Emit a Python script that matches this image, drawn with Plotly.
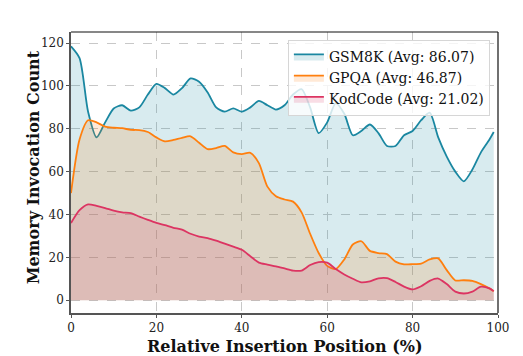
import plotly.graph_objects as go

x = [0, 2, 4, 6, 8, 10, 12, 14, 16, 18, 20, 22, 24, 26, 28, 30, 32, 34, 36, 38, 40,
     42, 44, 46, 48, 50, 52, 54, 56, 58, 60, 62, 64, 66, 68, 70, 72, 74, 76, 78, 80,
     82, 84, 86, 88, 90, 92, 94, 96, 98, 99]

gsm8k = [118.5, 113, 88, 76, 83, 89.5, 91, 88.5, 90, 96, 101, 99, 96, 99, 103.5, 102, 97, 90, 88, 89.5, 88,
         90, 93, 91, 89, 91, 96, 98.5, 90, 78, 83, 92, 87, 77, 79, 82, 78, 72, 72, 77, 79,
         84, 87.5, 76, 67, 60, 55.5, 61, 69, 75, 78.5]

gpqa = [50, 75, 84, 83, 81, 80.5, 80.3, 79.5, 79.4, 78.5, 76, 74.1, 74.8, 75.8, 76.5, 73.5, 70.5, 71, 72, 69, 68.2,
        68.8, 64, 53, 48.5, 47, 46, 41, 31, 22, 16, 14.5, 19, 26, 27.5, 23, 22, 21.5, 18, 16.7, 16.8,
        17.1, 19, 19.5, 14, 9.2, 9.3, 9, 7.5, 5.5, 4.2]

kodcode = [36, 42, 44.7, 44, 43, 41.8, 41, 40.6, 39, 37.5, 36.1, 35, 33.8, 32.9, 31, 29.7, 29, 27.8, 26.4, 25, 23.5,
           20.5, 17.5, 16.6, 15.8, 14.8, 13.8, 13.8, 16.4, 17.8, 17.5, 14.5, 12, 10, 8.3, 8.8, 10.2, 10.3, 8.5, 6.3, 5,
           6.5, 9, 10.1, 7.5, 4, 3.1, 4, 6.3, 5.5, 4.2]

names = ["GSM8K (Avg: 86.07)", "GPQA (Avg: 46.87)", "KodCode (Avg: 21.02)"]
x_ticks = [0, 20, 40, 60, 80, 100]
y_ticks = [0, 20, 40, 60, 80, 100, 120]
x_title = "Relative Insertion Position (%)"
y_title = "Memory Invocation Count"

line_colors = ["#1a87a1", "#ff7f0e", "#dc3462"]
fill_colors = ["rgba(26,135,161,0.17)", "rgba(255,127,14,0.17)", "rgba(220,52,98,0.17)"]

FONT = "DejaVu Serif"

fig = go.Figure()
for ys, nm, lc, fc in zip([gsm8k, gpqa, kodcode], names, line_colors, fill_colors):
    fig.add_trace(go.Scatter(
        x=x, y=ys, name=nm, mode="lines",
        line=dict(color=lc, width=1.8, shape="spline", smoothing=0.7),
        fill="tozeroy", fillcolor=fc,
    ))

axis_common = dict(
    showgrid=True, gridcolor="#c8c8c8", griddash="dash", gridwidth=0.8,
    showline=True, linecolor="#555555", linewidth=1.5,
    ticks="outside", ticklen=3, tickcolor="#555555", tickwidth=1,
    tickfont=dict(family=FONT, size=12, color="#222222"),
    zeroline=False, automargin=False,
)

# page body adds ~8px offset; figure is sized to fill the remaining window
fig.update_layout(
    width=515, height=348,
    margin=dict(l=63, r=25, t=24, b=43),
    paper_bgcolor="white", plot_bgcolor="white",
    font=dict(family=FONT, color="#111111"),
    xaxis=dict(range=[0, 100], tickvals=x_ticks, **axis_common),
    yaxis=dict(range=[-6, 125.2], tickvals=y_ticks, **axis_common),
    legend=dict(x=0.981, y=0.972, xanchor="right", yanchor="top",
                bgcolor="rgba(255,255,255,0.8)", bordercolor="#d6d6d6", borderwidth=1,
                font=dict(family=FONT, size=14, color="#111111"),
                itemwidth=30, tracegroupgap=0),
    showlegend=True,
    annotations=[
        dict(text="<b>" + x_title + "</b>", xref="paper", yref="paper", x=0.5, y=-0.118,
             xanchor="center", yanchor="middle", showarrow=False,
             font=dict(family=FONT, size=16, color="#111111")),
        dict(text="<b>" + y_title + "</b>", xref="paper", yref="paper", x=-0.087, y=0.518,
             xanchor="center", yanchor="middle", showarrow=False, textangle=-90,
             font=dict(family=FONT, size=16, color="#111111")),
    ],
    shapes=[
        dict(type="line", xref="paper", yref="paper", x0=0, x1=1, y0=1, y1=1,
             line=dict(color="#111111", width=1.2)),
        dict(type="line", xref="paper", yref="paper", x0=1, x1=1, y0=0, y1=1,
             line=dict(color="#111111", width=1.2)),
    ],
)

fig.write_html("out.html")
